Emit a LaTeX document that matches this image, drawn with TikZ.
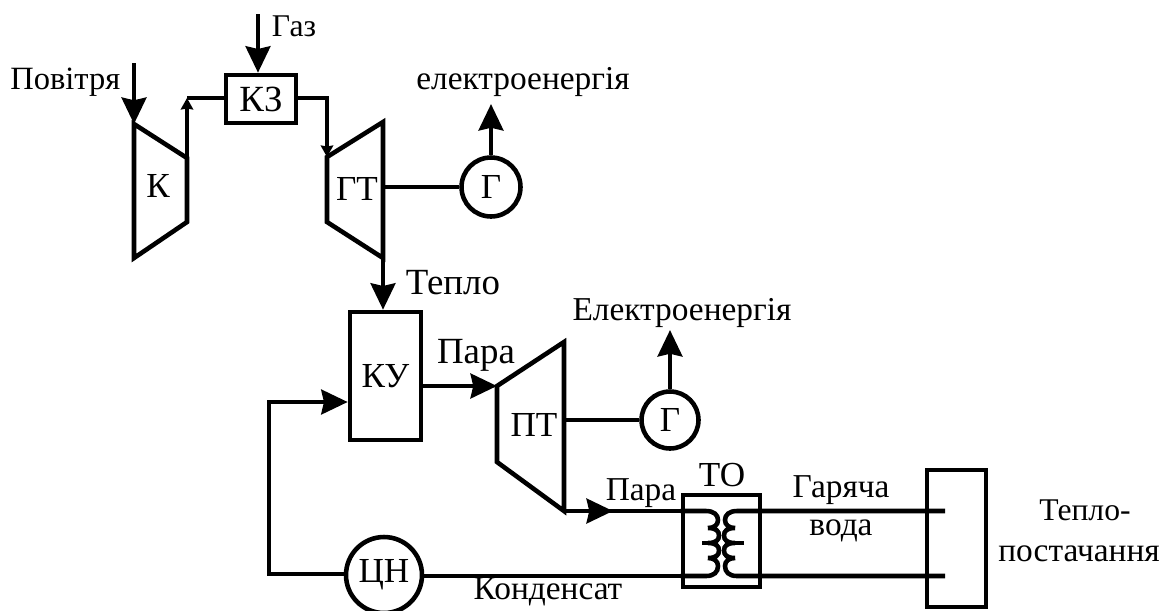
\documentclass[tikz,border=0pt]{standalone}
\usepackage{fontspec}
\setmainfont{Liberation Serif}
\usetikzlibrary{arrows.meta}
\tikzset{
  pipe/.style={line width=2.6pt},
  flow/.style={pipe, -{Stealth[length=15pt,width=14pt,inset=1.5pt]}},
  smallflow/.style={pipe, -{Stealth[length=6.5pt,width=7pt,inset=0.5pt]}},
  unit/.style={rectangle, draw, line width=2.6pt},
  gen/.style={circle, draw, line width=2.6pt, inner sep=0pt},
  lbl/.style={inner sep=0pt, font=\fontsize{19}{21}\selectfont},
  ulbl/.style={inner sep=0pt, font=\fontsize{20}{22}\selectfont},
}
\begin{document}
\begin{tikzpicture}[x=0.02cm, y=-0.02cm]
    \useasboundingbox (0,0) rectangle (1166,610);

    % Boxes and generators
    \node (kz) [unit, minimum width=1.4cm, minimum height=0.96cm, ulbl, font=\fontsize{21}{23}\selectfont] at (261,99) {КЗ};
    \node (ku) [unit, minimum width=1.42cm, minimum height=2.56cm, ulbl] at (385.5,376) {КУ};
    \node (g1) [gen, minimum size=1.18cm, ulbl] at (491,187) {Г};
    \node (g2) [gen, minimum size=1.14cm, ulbl] at (670,420) {Г};
    \node (cn) [gen, minimum size=1.52cm, ulbl] at (384,575) {ЦН};
    \node (to) [unit, minimum width=1.54cm, minimum height=1.84cm] at (721.5,541) {};
    \node (sup) [unit, minimum width=1.18cm, minimum height=2.74cm] at (956.5,538.5) {};

    % Turbines
    \coordinate (k1) at (134,124);
    \coordinate (k2) at (187,158);
    \coordinate (k3) at (187,222);
    \coordinate (k4) at (134,258);
    \draw[pipe, line join=miter] (k1) -- (k2) -- (k3) -- (k4) -- cycle;
    \coordinate (gt1) at (327,157);
    \coordinate (gt2) at (383,122);
    \coordinate (gt3) at (383,258);
    \coordinate (gt4) at (327,222);
    \draw[pipe, line join=miter] (gt1) -- (gt2) -- (gt3) -- (gt4) -- cycle;
    \coordinate (pt1) at (497,386);
    \coordinate (pt2) at (564,342);
    \coordinate (pt3) at (564,511);
    \coordinate (pt4) at (497,462);
    \draw[pipe, line join=miter] (pt1) -- (pt2) -- (pt3) -- (pt4) -- cycle;
    \node (k) [ulbl] at (158,186) {К};
    \node (gt) [ulbl] at (357,189) {ГТ};
    \node (pt) [ulbl] at (534,425) {ПТ};

    % Free ends
    \coordinate (air) at (134,63);
    \coordinate (gas) at (258,14);
    \coordinate (el1) at (491,104);
    \coordinate (el2) at (670,330);
    \coordinate (ptg) at (564,420);
    \coordinate (gtg) at (383,187);
    \coordinate (ret) at (269,402);
    \coordinate (comp) at (187,98);
    \coordinate (turb) at (327,98);
    \coordinate (stm) at (613,511);
    \coordinate (cnl) at (269,574);

    % Connectors
    \draw[flow] (air) -- (k1);
    \draw[flow] (gas) -- (gas |- kz.north);
    \draw[pipe] (kz.west |- comp) -- (comp);
    \draw[smallflow] (k2) -- (comp);
    \draw[smallflow] (kz.east |- turb) -- (turb) -- (gt1);
    \draw[pipe] (gtg) -- (g1);
    \draw[flow] (g1) -- (el1);
    \draw[flow] (gt3) -- (gt3 |- ku.north);
    \draw[flow] (ku.east |- pt1) -- (pt1);
    \draw[pipe] (ptg) -- (g2);
    \draw[flow] (g2) -- (el2);
    \draw[pipe] (600,511) -- (to.west |- stm);
    \draw[flow] (pt3) -- (stm);
    \draw[flow] (cn.west |- cnl) -- (cnl) -- (ret) -- (ku.west |- ret);
    \draw[pipe] (cn.east |- 0,576) -- (to.west |- 0,576);

    % Exchanger coils and supply lines
    \draw[pipe] (to.west |- stm) -- (706,511) .. controls (714,511) and (718,515) .. (718,520)
      .. controls (718,525) and (714,528) .. (708,528)
      .. controls (716,528) and (719,531) .. (719,535.5)
      .. controls (719,540) and (716,543) .. (708,543)
      .. controls (716,543) and (719,546) .. (719,550.5)
      .. controls (719,555) and (716,558) .. (708,558)
      .. controls (714,558) and (718,561) .. (718,566)
      .. controls (718,572) and (714,576) .. (706,576) -- (to.west |- 0,576);
    \draw[pipe] (702,543) -- (708,543);
    \draw[pipe] (945,511) -- (737,511) .. controls (729,511) and (725,515) .. (725,520)
      .. controls (725,525) and (729,528) .. (735,528)
      .. controls (727,528) and (724,531) .. (724,535.5)
      .. controls (724,540) and (727,543) .. (735,543)
      .. controls (727,543) and (724,546) .. (724,550.5)
      .. controls (724,555) and (727,558) .. (735,558)
      .. controls (729,558) and (725,561) .. (725,566)
      .. controls (725,572) and (729,576) .. (737,576) -- (945,576);
    \draw[pipe] (744,543) -- (735,543);

    % Labels
    \node (tair) [lbl, font=\fontsize{18.5}{20}\selectfont, anchor=west] at (10,82) {Повітря};
    \node (tgas) [lbl, font=\fontsize{18}{20}\selectfont] at (294,26) {Газ};
    \node (tel1) [lbl] at (523,82) {електроенергія};
    \node (theat) [lbl, font=\fontsize{21}{23}\selectfont] at (453,283) {Тепло};
    \node (tel2) [lbl] at (682,313) {Електроенергія};
    \node (tst1) [lbl, font=\fontsize{21}{23}\selectfont] at (476,355) {Пара};
    \node (tst2) [lbl] at (641,493) {Пара};
    \node (tto) [ulbl] at (722,475) {ТО};
    \node (thot1) [lbl] at (841,490) {Гаряча};
    \node (thot2) [lbl] at (841,531) {вода};
    \node (tcond) [lbl] at (548,592) {Конденсат};
    \node (tsup1) [lbl, font=\fontsize{18}{20}\selectfont] at (1085,510) {Тепло-};
    \node (tsup2) [lbl] at (1079,554) {постачання};
\end{tikzpicture}
\end{document}
